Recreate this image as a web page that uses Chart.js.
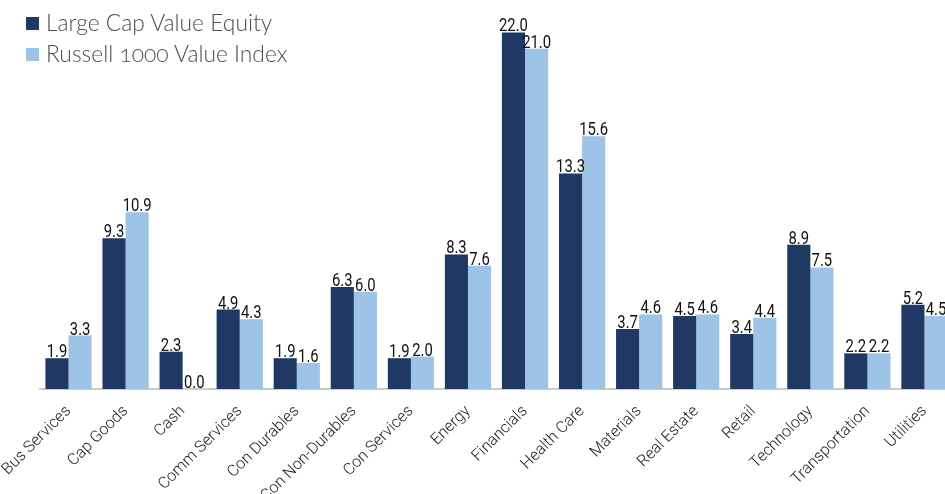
<!DOCTYPE html>
<html>
<head>
<meta charset="utf-8">
<script src="https://cdn.jsdelivr.net/npm/chart.js@4"></script>
<style>
  html, body { margin: 0; padding: 0; overflow: hidden; background: #fff; }
  #wrap { position: absolute; left: 0; top: 0; width: 953px; height: 494px; }
  #legend { position: absolute; left: 26px; top: 8px; font-family: Lato, "Open Sans", sans-serif; font-weight: 300;
    font-size: 22.8px; color: #4d4d4d; font-feature-settings: "onum" 1; font-variant-numeric: oldstyle-nums; }
  #legend .row { height: 31px; line-height: 28px; white-space: nowrap; }
  #legend .sw { display: inline-block; width: 13px; height: 13px; margin-right: 7px; vertical-align: 1px; }
</style>
</head>
<body>
<div id="wrap"><canvas id="sectorChart"></canvas></div>
<div id="legend"></div>
<script>
const categories = ['Bus Services', 'Cap Goods', 'Cash', 'Comm Services', 'Con Durables', 'Con Non-Durables',
  'Con Services', 'Energy', 'Financials', 'Health Care', 'Materials', 'Real Estate', 'Retail',
  'Technology', 'Transportation', 'Utilities'];
const portfolio = [1.9, 9.3, 2.3, 4.9, 1.9, 6.3, 1.9, 8.3, 22.0, 13.3, 3.7, 4.5, 3.4, 8.9, 2.2, 5.2];
const benchmark = [3.3, 10.9, 0.0, 4.3, 1.6, 6.0, 2.0, 7.6, 21.0, 15.6, 4.6, 4.6, 4.4, 7.5, 2.2, 4.5];
const seriesNames = ['Large Cap Value Equity', 'Russell 1000 Value Index'];
const seriesColors = ['#203864', '#9dc3e6'];

// value labels on top of each bar (condensed by a horizontal squeeze)
const barLabels = {
  id: 'barLabels',
  afterDatasetsDraw(chart) {
    const ctx = chart.ctx;
    const squeeze = 0.78;
    ctx.save();
    ctx.font = '400 19px Roboto, sans-serif';
    ctx.fillStyle = '#111111';
    ctx.textAlign = 'center';
    ctx.textBaseline = 'alphabetic';
    chart.data.datasets.forEach((ds, i) => {
      chart.getDatasetMeta(i).data.forEach((bar, j) => {
        ctx.save();
        ctx.translate(bar.x, bar.y - 1);
        ctx.scale(squeeze, 1);
        ctx.fillText(ds.data[j].toFixed(1), 0, 0);
        ctx.restore();
      });
    });
    ctx.restore();
  }
};

const ctx = document.getElementById('sectorChart').getContext('2d');
new Chart(ctx, {
  type: 'bar',
  data: {
    labels: categories,
    datasets: [
      { label: seriesNames[0], data: portfolio, backgroundColor: seriesColors[0] },
      { label: seriesNames[1], data: benchmark, backgroundColor: seriesColors[1] }
    ]
  },
  options: {
    responsive: true,
    maintainAspectRatio: false,
    animation: false,
    layout: { padding: { left: 40, right: 0, top: 0, bottom: 0 } },
    datasets: { bar: { categoryPercentage: 0.81, barPercentage: 1.0 } },
    plugins: {
      legend: { display: false },
      tooltip: { enabled: false }
    },
    scales: {
      x: {
        grid: { display: false },
        border: { display: true, color: '#cccccc', width: 2 },
        ticks: {
          color: '#1a1a1a',
          font: { family: 'Roboto, sans-serif', size: 16, weight: 300 },
          minRotation: 45,
          maxRotation: 45,
          autoSkip: false,
          padding: 5
        },
        afterFit(axis) {
          axis.height = 105;
          axis.paddingLeft = 0;
          axis.paddingRight = 0;
        }
      },
      y: {
        display: false,
        min: 0,
        max: 24
      }
    }
  },
  plugins: [barLabels]
});

// html legend
const legend = document.getElementById('legend');
seriesNames.forEach((name, i) => {
  const row = document.createElement('div');
  row.className = 'row';
  row.innerHTML = '<span class="sw" style="background:' + seriesColors[i] + '"></span>' + name;
  legend.appendChild(row);
});
</script>
</body>
</html>
